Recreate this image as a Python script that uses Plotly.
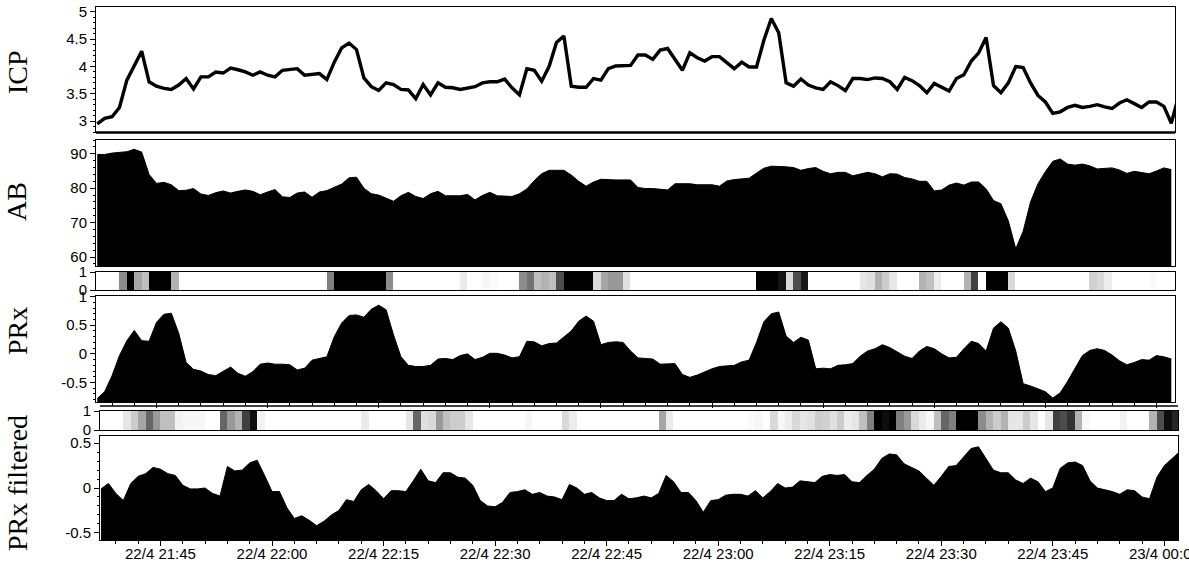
import pandas as pd
import plotly.graph_objects as go

START = "2024-04-22 21:37:00"

ICP = [2.95, 3.05, 3.08, 3.25, 3.75, 4.02, 4.28, 3.72, 3.64, 3.60,
       3.58, 3.66, 3.78, 3.59, 3.81, 3.81, 3.90, 3.88, 3.97, 3.94,
       3.90, 3.84, 3.90, 3.84, 3.81, 3.93, 3.95, 3.96, 3.84, 3.86,
       3.87, 3.76, 4.08, 4.34, 4.43, 4.31, 3.79, 3.63, 3.56, 3.70,
       3.67, 3.58, 3.57, 3.41, 3.67, 3.48, 3.70, 3.62, 3.61, 3.58,
       3.60, 3.63, 3.70, 3.72, 3.72, 3.77, 3.61, 3.48, 3.96, 3.93,
       3.73, 4.00, 4.44, 4.56, 3.64, 3.62, 3.62, 3.78, 3.75, 3.96,
       4.01, 4.01, 4.02, 4.21, 4.21, 4.13, 4.30, 4.33, 4.12, 3.93,
       4.25, 4.16, 4.10, 4.18, 4.18, 4.07, 3.96, 4.08, 3.99, 3.99,
       4.48, 4.88, 4.62, 3.70, 3.64, 3.77, 3.66, 3.61, 3.58, 3.72,
       3.65, 3.56, 3.78, 3.78, 3.76, 3.79, 3.78, 3.72, 3.58, 3.80,
       3.74, 3.65, 3.52, 3.69, 3.62, 3.55, 3.78, 3.85, 4.10, 4.25,
       4.53, 3.65, 3.52, 3.70, 4.00, 3.98, 3.70, 3.47, 3.35, 3.14,
       3.17, 3.25, 3.29, 3.25, 3.27, 3.30, 3.26, 3.23, 3.33, 3.39,
       3.32, 3.25, 3.35, 3.35, 3.27, 2.96, 3.47]

AB = [89.8, 89.8, 90.2, 90.4, 90.6, 91.3, 90.5, 84.0, 81.4, 81.7,
      81.0, 79.3, 79.4, 79.9, 78.3, 77.9, 78.7, 79.2, 78.6, 79.1,
      79.5, 79.1, 78.1, 78.9, 79.6, 77.5, 77.3, 78.6, 78.9, 77.4,
      78.9, 79.3, 80.2, 81.2, 83.0, 83.2, 80.0, 78.4, 78.0, 77.0,
      76.2, 77.8, 78.8, 77.6, 77.0, 78.4, 79.1, 77.8, 77.8, 77.8,
      78.2, 76.6, 77.9, 78.8, 77.8, 77.7, 77.6, 78.4, 79.8, 82.2,
      84.2, 85.2, 85.2, 85.2, 83.8, 82.0, 80.6, 81.8, 82.6, 82.4,
      82.4, 82.4, 82.4, 80.2, 79.9, 79.9, 79.6, 79.5, 81.3, 81.4,
      81.3, 81.0, 81.0, 81.0, 80.6, 82.1, 82.5, 82.6, 82.9, 84.4,
      85.8, 86.4, 86.4, 86.2, 86.0, 85.2, 85.7, 86.0, 84.9, 84.2,
      84.6, 84.6, 83.6, 84.2, 84.6, 84.2, 83.3, 84.2, 84.1, 83.1,
      82.7, 82.0, 82.0, 79.2, 79.5, 80.9, 81.5, 80.9, 81.8, 81.8,
      79.8, 76.4, 75.5, 70.5, 62.4, 67.5, 76.0, 81.3, 84.8, 87.8,
      88.5, 87.0, 86.7, 87.0, 86.5, 85.6, 85.7, 85.9, 85.3, 84.3,
      84.9, 84.6, 84.2, 85.0, 85.9, 85.4]

PRX = [-0.78, -0.66, -0.38, -0.03, 0.23, 0.41, 0.23, 0.22, 0.55, 0.69,
       0.71, 0.36, -0.15, -0.27, -0.30, -0.36, -0.38, -0.31, -0.23, -0.34,
       -0.39, -0.31, -0.18, -0.16, -0.18, -0.18, -0.19, -0.28, -0.25, -0.11,
       -0.08, -0.05, 0.30, 0.54, 0.67, 0.68, 0.64, 0.78, 0.85, 0.77,
       0.33, -0.05, -0.20, -0.22, -0.22, -0.20, -0.09, -0.08, -0.10, -0.03,
       0.00, -0.10, -0.06, 0.01, 0.01, -0.02, -0.07, -0.05, 0.22, 0.21,
       0.14, 0.18, 0.19, 0.30, 0.40, 0.57, 0.66, 0.57, 0.16, 0.20,
       0.21, 0.20, 0.05, -0.07, -0.08, -0.09, -0.18, -0.18, -0.17, -0.36,
       -0.41, -0.37, -0.31, -0.26, -0.22, -0.21, -0.20, -0.14, -0.11, 0.20,
       0.56, 0.70, 0.73, 0.31, 0.20, 0.29, 0.24, -0.26, -0.25, -0.26,
       -0.20, -0.19, -0.17, -0.04, 0.05, 0.09, 0.16, 0.11, 0.03, -0.04,
       -0.08, 0.05, 0.13, 0.09, 0.00, -0.07, -0.06, 0.09, 0.22, 0.18,
       0.05, 0.45, 0.56, 0.45, 0.05, -0.52, -0.56, -0.61, -0.66, -0.77,
       -0.68, -0.48, -0.25, -0.03, 0.06, 0.09, 0.06, -0.02, -0.12, -0.19,
       -0.15, -0.10, -0.11, -0.03, -0.05, -0.09]

PRX_FILTERED = [-0.01, 0.05, -0.06, -0.14, 0.05, 0.13, 0.16, 0.23, 0.21, 0.16,
                0.14, 0.03, -0.01, -0.01, 0.00, -0.06, -0.09, 0.24, 0.19, 0.20,
                0.28, 0.31, 0.14, -0.04, -0.04, -0.22, -0.34, -0.31, -0.36, -0.42,
                -0.37, -0.30, -0.25, -0.13, -0.15, -0.02, 0.04, -0.03, -0.12, -0.03,
                -0.03, -0.04, 0.08, 0.21, 0.08, 0.06, 0.17, 0.17, 0.12, 0.11,
                0.03, -0.14, -0.20, -0.21, -0.16, -0.05, -0.04, -0.02, -0.07, -0.05,
                -0.09, -0.10, -0.13, 0.04, 0.00, -0.07, -0.05, -0.11, -0.14, -0.14,
                -0.07, -0.12, -0.11, -0.09, -0.11, -0.06, 0.14, 0.07, -0.05, -0.05,
                -0.14, -0.27, -0.14, -0.13, -0.08, -0.07, -0.07, -0.09, -0.03, -0.11,
                -0.04, 0.05, 0.00, 0.01, 0.08, 0.07, 0.06, 0.13, 0.15, 0.14,
                0.15, 0.07, 0.06, 0.14, 0.21, 0.33, 0.38, 0.37, 0.27, 0.23,
                0.19, 0.11, 0.03, 0.13, 0.24, 0.25, 0.34, 0.44, 0.46, 0.33,
                0.20, 0.17, 0.17, 0.09, 0.05, 0.11, 0.07, -0.04, 0.00, 0.22,
                0.28, 0.29, 0.25, 0.08, 0.00, -0.02, -0.04, -0.07, -0.02, -0.03,
                -0.10, -0.12, 0.12, 0.25, 0.32, 0.40]

STRIP_PRX = [0, 0, 0, 0.45, 1, 0.35, 0.25, 1, 1, 1,
             0.3, 0, 0, 0, 0, 0, 0, 0, 0, 0,
             0, 0, 0, 0, 0, 0, 0, 0, 0, 0,
             0, 0.5, 1, 1, 1, 1, 1, 1, 1, 0.45,
             0, 0, 0, 0, 0, 0, 0, 0, 0, 0.08,
             0, 0, 0.03, 0.02, 0, 0, 0, 0.45, 0.55, 0.25,
             0.3, 0.25, 0.7, 1, 1, 1, 1, 0.15, 0.35, 0.4,
             0.4, 0.12, 0, 0, 0, 0, 0, 0, 0, 0,
             0, 0, 0, 0, 0, 0, 0, 0, 0, 1,
             1, 1, 0.92, 0.15, 0.7, 0.9, 0, 0, 0, 0,
             0, 0, 0, 0.1, 0.12, 0.3, 0.2, 0.1, 0, 0,
             0, 0.3, 0.25, 0.08, 0, 0, 0, 0.3, 0.75, 0,
             1, 1, 1, 0.15, 0, 0, 0, 0, 0, 0,
             0, 0, 0, 0, 0.18, 0.15, 0.07, 0, 0, 0,
             0, 0, 0.02, 0, 0, 0]

STRIP_PRX_FILTERED = [0, 0, 0, 0.1, 0.2, 0.35, 0.6, 0.4, 0.25, 0.25,
                      0.05, 0.03, 0.03, 0.03, 0, 0, 0.6, 0.4, 0.3, 0.75,
                      0.95, 0.05, 0, 0, 0, 0, 0, 0, 0, 0,
                      0, 0, 0, 0, 0, 0.08, 0, 0, 0, 0,
                      0, 0.1, 0.6, 0.12, 0.15, 0.4, 0.25, 0.2, 0.2, 0.1,
                      0, 0, 0, 0, 0, 0, 0, 0.03, 0, 0,
                      0, 0, 0.15, 0.07, 0, 0, 0, 0, 0, 0,
                      0, 0, 0, 0, 0, 0.35, 0.08, 0, 0, 0,
                      0, 0, 0, 0, 0, 0, 0, 0.02, 0.03, 0,
                      0.15, 0.03, 0.07, 0.15, 0.1, 0.12, 0.2, 0.18, 0.12, 0.2,
                      0.07, 0.1, 0.25, 0.5, 1, 0.95, 1, 0.5, 0.4, 0.15,
                      0.08, 0.03, 0.25, 0.6, 0.5, 1, 1, 1, 0.45, 0.3,
                      0.2, 0.3, 0.1, 0.1, 0.2, 0.1, 0, 0.1, 0.75, 0.7,
                      0.8, 0.3, 0.03, 0, 0, 0, 0, 0.05, 0, 0,
                      0, 0.3, 0.7, 0.95, 0.85]

UPPER_RANGE = ["2024-04-22 21:36:50", "2024-04-23 00:02:30"]
LOWER_RANGE = ["2024-04-22 21:36:52", "2024-04-23 00:01:50"]


def sample_times(n):
    return pd.date_range(START, periods=n, freq="min")


def cell_times(n):
    return pd.date_range(pd.Timestamp(START) + pd.Timedelta(seconds=30), periods=n, freq="min")


W, H = 1189, 563


def ydom(top_px, bottom_px):
    return [1 - bottom_px / H, 1 - top_px / H]


UPPER_DOM = [96 / W, 1175 / W]
LOWER_DOM = [100 / W, 1178 / W]
GRAY = [[0, "white"], [1, "black"]]
TICKFONT = dict(family="Liberation Sans, Arial", size=15, color="black")

fig = go.Figure()

# ICP line
fig.add_trace(go.Scatter(x=sample_times(len(ICP)), y=ICP, mode="lines",
                         line=dict(color="black", width=3.4), xaxis="x", yaxis="y",
                         showlegend=False, hoverinfo="skip"))
# AB area
fig.add_trace(go.Scatter(x=sample_times(len(AB)), y=AB, mode="lines", fill="tozeroy",
                         fillcolor="black", line=dict(color="black", width=1),
                         xaxis="x2", yaxis="y2", showlegend=False))
# strip for PRx
fig.add_trace(go.Heatmap(x=cell_times(len(STRIP_PRX)), y=[0.5], z=[STRIP_PRX],
                         colorscale=GRAY, zmin=0, zmax=1, showscale=False,
                         xaxis="x3", yaxis="y3"))
# PRx area to the floor of the panel
PRX_FLOOR = -0.84
fig.add_trace(go.Scatter(x=sample_times(len(PRX)), y=[PRX_FLOOR - 1] * len(PRX), mode="lines",
                         line=dict(width=0, color="black"), xaxis="x4", yaxis="y4",
                         showlegend=False))
fig.add_trace(go.Scatter(x=sample_times(len(PRX)), y=PRX, mode="lines", fill="tonexty",
                         fillcolor="black", line=dict(color="black", width=1),
                         xaxis="x4", yaxis="y4", showlegend=False))
# strip for PRx filtered
fig.add_trace(go.Heatmap(x=cell_times(len(STRIP_PRX_FILTERED)), y=[0.5], z=[STRIP_PRX_FILTERED],
                         colorscale=GRAY, zmin=0, zmax=1, showscale=False,
                         xaxis="x5", yaxis="y5"))
# PRx filtered area
PRXF_FLOOR = -0.58
fig.add_trace(go.Scatter(x=sample_times(len(PRX_FILTERED)), y=[PRXF_FLOOR - 1] * len(PRX_FILTERED),
                         mode="lines", line=dict(width=0, color="black"), xaxis="x6", yaxis="y6",
                         showlegend=False))
fig.add_trace(go.Scatter(x=sample_times(len(PRX_FILTERED)), y=PRX_FILTERED, mode="lines",
                         fill="tonexty", fillcolor="black", line=dict(color="black", width=1),
                         xaxis="x6", yaxis="y6", showlegend=False))


def xaxis(dom, rng, anchor, ticks=False, labels=False):
    d = dict(domain=dom, range=rng, anchor=anchor, type="date", showgrid=False, zeroline=False,
             showline=True, mirror=True, linecolor="black", linewidth=1, automargin=False,
             showticklabels=labels, tickfont=TICKFONT, tickformat="%-d/%-m %H:%M",
             tick0="2024-04-22 21:45:00", dtick=15 * 60 * 1000,
             ticklabeloverflow="allow", ticklabelstandoff=-5)
    if ticks:
        d.update(ticks="outside", ticklen=5, tickcolor="black",
                 minor=dict(dtick=3 * 60 * 1000, ticks="outside", ticklen=3, tickcolor="black"))
    else:
        d.update(ticks="")
    return d


def yaxis(dom, rng, anchor, tickvals, ticktext=None, minor=None):
    d = dict(domain=dom, range=rng, anchor=anchor, showgrid=False, zeroline=False,
             showline=True, mirror=True, linecolor="black", linewidth=1, automargin=False,
             ticks="outside", ticklen=5, tickcolor="black", tickfont=TICKFONT,
             tickvals=tickvals, fixedrange=True)
    if ticktext is not None:
        d["ticktext"] = ticktext
    if minor is not None:
        d["minor"] = dict(dtick=minor, ticks="outside", ticklen=2, tickcolor="black")
    return d


fig.update_layout(
    width=W, height=H, margin=dict(l=0, r=0, t=0, b=0, autoexpand=False),
    paper_bgcolor="white", plot_bgcolor="white", showlegend=False,
    xaxis=xaxis(UPPER_DOM, UPPER_RANGE, "y"),
    xaxis2=xaxis(UPPER_DOM, UPPER_RANGE, "y2"),
    xaxis3=xaxis(UPPER_DOM, UPPER_RANGE, "y3"),
    xaxis4=xaxis(UPPER_DOM, UPPER_RANGE, "y4", ticks=True),
    xaxis5=xaxis(LOWER_DOM, LOWER_RANGE, "y5"),
    xaxis6=xaxis(LOWER_DOM, LOWER_RANGE, "y6", ticks=True, labels=True),
    yaxis=yaxis(ydom(7, 132), [2.8, 5.09], "x", [3, 3.5, 4, 4.5, 5], ["3", "3.5", "4", "4.5", "5"], 0.1),
    yaxis2=yaxis(ydom(140, 266), [57.4, 94], "x2", [60, 70, 80, 90], None, 2),
    yaxis3=yaxis(ydom(272, 290), [0, 1], "x3", [0, 1]),
    yaxis4=yaxis(ydom(296, 402), [PRX_FLOOR, 1.01], "x4", [-0.5, 0, 0.5, 1], ["-0.5", "0", "0.5", "1"], 0.1),
    yaxis5=yaxis(ydom(411, 430), [0, 1], "x5", [0, 1]),
    yaxis6=yaxis(ydom(436, 540), [PRXF_FLOOR, 0.58], "x6", [-0.5, 0, 0.5], ["-0.5", "0", "0.5"], 0.1),
)

TITLE_FONT = dict(family="Liberation Serif, Times New Roman, serif", size=28, color="black")
for text, ypx in [("ICP", 72), ("AB", 202), ("PRx", 331), ("PRx filtered", 483)]:
    fig.add_annotation(text=text, x=17 / W, y=1 - ypx / H, xref="paper", yref="paper",
                       xanchor="center", yanchor="middle", textangle=-90, showarrow=False,
                       font=TITLE_FONT)

# thicker separator under ICP panel and extra frame line above the lower strip
fig.add_shape(type="line", xref="paper", yref="paper", x0=UPPER_DOM[0], x1=UPPER_DOM[1],
              y0=1 - 132.5 / H, y1=1 - 132.5 / H, line=dict(color="black", width=2.5))
fig.add_shape(type="line", xref="paper", yref="paper", x0=LOWER_DOM[0], x1=LOWER_DOM[1],
              y0=1 - 406 / H, y1=1 - 406 / H, line=dict(color="black", width=1.5))

# remove the browser's default page margin so the figure sits at the window origin
fig.write_html("out.html", config=dict(displayModeBar=False),
               post_script="document.body.style.margin='0';document.body.style.overflow='hidden';")
